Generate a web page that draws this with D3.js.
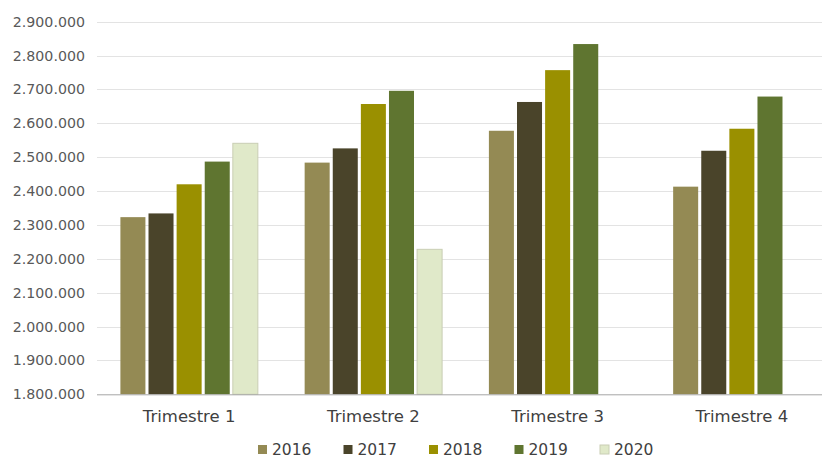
<!DOCTYPE html>
<html>
<head>
<meta charset="utf-8">
<script src="https://cdn.jsdelivr.net/npm/d3@7"></script>
<style>
  html, body { margin: 0; padding: 0; background: #fff; }
  svg { display: block; }
  text { font-family: "DejaVu Sans", Verdana, sans-serif; }
</style>
</head>
<body>
<svg id="chart" width="822" height="459"></svg>
<script>
// Quarterly totals by year
const quarters = ["Trimestre 1", "Trimestre 2", "Trimestre 3", "Trimestre 4"];
const years = ["2016", "2017", "2018", "2019", "2020"];
const values2016 = [2323000, 2484000, 2578000, 2413000];
const values2017 = [2334000, 2526000, 2663000, 2519000];
const values2018 = [2420000, 2657000, 2757000, 2584000];
const values2019 = [2487000, 2696000, 2834000, 2679000];
const values2020 = [2541000, 2228000, null, null];
const yTicks = [1800000, 1900000, 2000000, 2100000, 2200000, 2300000, 2400000,
                2500000, 2600000, 2700000, 2800000, 2900000];
const colors = ["#948a54", "#4a442a", "#9a9000", "#5f7530", "#e0e9c9"];

const seriesValues = [values2016, values2017, values2018, values2019, values2020];

const svg = d3.select("#chart");
const plotLeft = 97, plotRight = 834, plotTop = 21.7, plotBottom = 394.3;

const x0 = d3.scaleBand().domain(quarters).range([plotLeft, plotRight]).padding(0);
const x1 = d3.scaleBand().domain(years)
  .range([23.4, x0.bandwidth() - 23.4]).paddingInner(0.11).paddingOuter(0);
const y = d3.scaleLinear().domain([1800000, 2900000]).range([plotBottom, plotTop]);

const fmt = v => d3.format(",")(v).replace(/,/g, ".");

// horizontal grid
svg.append("g")
  .selectAll("line")
  .data(yTicks.slice(1))
  .join("line")
  .attr("x1", plotLeft).attr("x2", 822)
  .attr("y1", d => Math.round(y(d)) + 0.5).attr("y2", d => Math.round(y(d)) + 0.5)
  .attr("stroke", "#e3e3e3").attr("stroke-width", 1);

// y axis labels
const yAxis = d3.axisLeft(y).tickValues(yTicks).tickFormat(fmt).tickSize(0).tickPadding(12);
const gy = svg.append("g").attr("transform", `translate(${plotLeft},0)`).call(yAxis);
gy.select(".domain").remove();
gy.selectAll("text")
  .attr("fill", "#595959")
  .style("font-size", "14.2px")
  .style("font-family", "'DejaVu Sans', Verdana, sans-serif");

// bars
const rows = [];
quarters.forEach((q, qi) => {
  years.forEach((yr, si) => {
    const v = seriesValues[si][qi];
    if (v != null) rows.push({ q, yr, si, v });
  });
});

svg.append("g")
  .selectAll("rect")
  .data(rows)
  .join("rect")
  .attr("x", d => x0(d.q) + x1(d.yr))
  .attr("width", x1.bandwidth())
  .attr("y", d => y(d.v))
  .attr("height", d => y(1800000) - y(d.v))
  .attr("fill", d => colors[d.si])
  .attr("stroke", d => d.si === 4 ? "#c9ceb4" : "none")
  .attr("stroke-width", 1);

// x axis
const xAxis = d3.axisBottom(x0).tickSize(0).tickPadding(16);
const gx = svg.append("g").attr("transform", `translate(0,${plotBottom})`).call(xAxis);
gx.select(".domain").attr("stroke", "#a6a6a6").attr("d", `M${plotLeft},0.5H${plotRight}`);
gx.selectAll("text")
  .attr("fill", "#404040")
  .style("font-size", "16.5px")
  .style("font-family", "'DejaVu Sans', Verdana, sans-serif");

// legend
const legend = svg.append("g").attr("transform", "translate(258,449.5)");
const item = legend.selectAll("g").data(years).join("g")
  .attr("transform", (d, i) => `translate(${i * 85.5},0)`);
item.append("rect")
  .attr("x", 0).attr("y", -4.5).attr("width", 9).attr("height", 9)
  .attr("fill", (d, i) => colors[i])
  .attr("stroke", (d, i) => i === 4 ? "#c9ceb4" : "none");
item.append("text")
  .attr("x", 14).attr("y", 0).attr("dy", "0.36em")
  .attr("fill", "#404040")
  .style("font-size", "15.5px")
  .text(d => d);
</script>
</body>
</html>
